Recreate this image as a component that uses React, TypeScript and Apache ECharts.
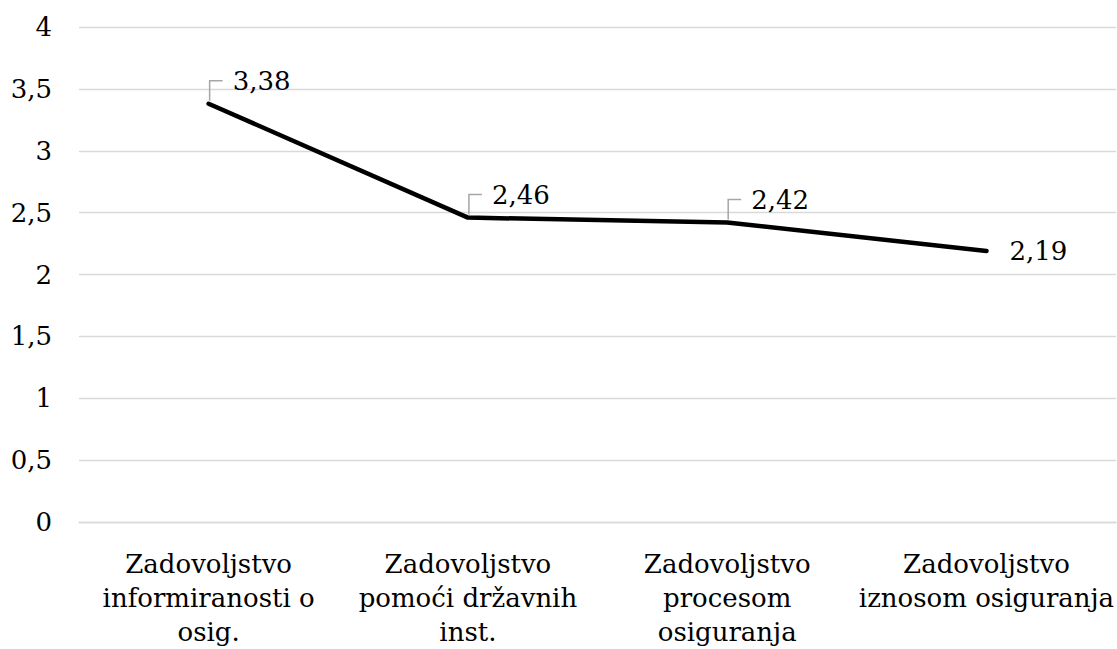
import React, { useEffect, useRef } from "react";
import * as echarts from "echarts";

const categories = [
  "Zadovoljstvo\ninformiranosti o\nosig.",
  "Zadovoljstvo\npomoći državnih\ninst.",
  "Zadovoljstvo\nprocesom\nosiguranja",
  "Zadovoljstvo\niznosom osiguranja",
];
const values = [3.38, 2.46, 2.42, 2.19];
const yMin = 0;
const yMax = 4;
const yInterval = 0.5;

const FONT = "DejaVu Serif";
const FS = 26;
const fmt = (v: number) => String(v).replace(".", ",");

export default function App() {
  const ref = useRef<HTMLDivElement>(null);
  useEffect(() => {
    if (!ref.current) return;
    const chart = echarts.init(ref.current, null, { renderer: "svg" });
    const last = values.length - 1;
    chart.setOption({
      animation: false,
      backgroundColor: "#ffffff",
      textStyle: { fontFamily: FONT },
      grid: { left: 79, right: 0, top: 27, bottom: 126, containLabel: false },
      xAxis: {
        type: "category",
        data: categories,
        boundaryGap: true,
        axisLine: { show: true, lineStyle: { color: "#d9d9d9", width: 1.3 } },
        axisTick: { show: false },
        axisLabel: {
          interval: 0,
          margin: 25,
          color: "#000",
          fontFamily: FONT,
          fontSize: FS,
          lineHeight: 34,
        },
      },
      yAxis: {
        type: "value",
        min: yMin,
        max: yMax,
        interval: yInterval,
        axisLine: { show: false },
        axisTick: { show: false },
        splitLine: { lineStyle: { color: "#d9d9d9", width: 1.3 } },
        axisLabel: {
          margin: 27,
          color: "#000",
          fontFamily: FONT,
          fontSize: FS,
          formatter: (v: number) => fmt(v),
        },
      },
      series: [
        {
          type: "line",
          data: values,
          symbol: "none",
          lineStyle: { color: "#000", width: 4.5, cap: "round", join: "round" },
          z: 3,
        },
        {
          type: "custom",
          data: values.map((v, i) => [i, v]),
          z: 4,
          renderItem: (params: any, api: any) => {
            const p = api.coord([api.value(0), api.value(1)]);
            const label = fmt(api.value(1));
            if (params.dataIndex === last) {
              return {
                type: "text",
                x: p[0] + 23,
                y: p[1],
                style: {
                  text: label,
                  fill: "#000",
                  fontFamily: FONT,
                  fontSize: FS,
                  verticalAlign: "middle",
                  align: "left",
                },
              };
            }
            const up = 23;
            return {
              type: "group",
              children: [
                {
                  type: "polyline",
                  shape: {
                    points: [
                      [p[0] + 1, p[1] - 3],
                      [p[0] + 1, p[1] - up],
                      [p[0] + 14, p[1] - up],
                    ],
                  },
                  style: { stroke: "#a6a6a6", lineWidth: 1.5, fill: "none" },
                },
                {
                  type: "text",
                  x: p[0] + 24,
                  y: p[1] - up,
                  style: {
                    text: label,
                    fill: "#000",
                    fontFamily: FONT,
                    fontSize: FS,
                    verticalAlign: "middle",
                    align: "left",
                  },
                },
              ],
            };
          },
        },
      ],
    });
    return () => chart.dispose();
  }, []);
  return (
    <div
      ref={ref}
      style={{ position: "fixed", left: 0, top: 0, width: 1117, height: 649, background: "#fff" }}
    />
  );
}
